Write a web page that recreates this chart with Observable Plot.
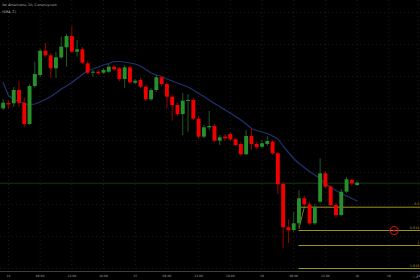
<!DOCTYPE html>
<html><head><meta charset="utf-8">
<script src="https://cdn.jsdelivr.net/npm/d3@7"></script>
<script src="https://cdn.jsdelivr.net/npm/@observablehq/plot@0.6"></script>
<style>html,body{margin:0;padding:0;background:#000;overflow:hidden}</style>
</head><body><div id="chart"></div>
<script>
const opens = [5.3834,5.394,5.3934,5.420,5.3946,5.352,5.428,5.450,5.4986,5.4894,5.4634,5.4854,5.5054,5.528,5.4966,5.5014,5.4734,5.4546,5.4566,5.4546,5.4566,5.4666,5.4634,5.442,5.4654,5.4346,5.440,5.4266,5.4014,5.420,5.4454,5.432,5.4066,5.390,5.372,5.398,5.400,5.3626,5.3266,5.3454,5.348,5.3186,5.3266,5.332,5.3214,5.312,5.2914,5.328,5.312,5.3066,5.312,5.3166,5.2934,5.232,5.1454,5.140,5.1534,5.2034,5.1914,5.1534,5.1966,5.2534,5.2266,5.190,5.170,5.2166,5.240,5.230];
const highs = [5.402,5.400,5.426,5.4386,5.4054,5.432,5.4766,5.502,5.5146,5.494,5.4966,5.5266,5.532,5.548,5.520,5.506,5.478,5.460,5.460,5.464,5.472,5.470,5.466,5.470,5.468,5.442,5.444,5.430,5.424,5.450,5.448,5.436,5.410,5.394,5.414,5.412,5.404,5.368,5.350,5.3786,5.352,5.330,5.332,5.336,5.324,5.316,5.340,5.3434,5.316,5.320,5.328,5.320,5.296,5.236,5.162,5.1766,5.220,5.208,5.196,5.192,5.2834,5.258,5.230,5.194,5.222,5.246,5.242,5.237];
const lows = [5.380,5.382,5.386,5.386,5.3454,5.350,5.424,5.446,5.486,5.444,5.444,5.482,5.4666,5.494,5.4866,5.472,5.452,5.4466,5.450,5.452,5.454,5.458,5.438,5.424,5.432,5.432,5.424,5.398,5.398,5.416,5.428,5.384,5.3586,5.368,5.330,5.3366,5.360,5.322,5.324,5.340,5.316,5.310,5.3186,5.318,5.308,5.288,5.290,5.300,5.302,5.304,5.308,5.290,5.212,5.104,5.114,5.136,5.146,5.188,5.150,5.150,5.194,5.224,5.186,5.166,5.168,5.214,5.228,5.228];
const closes = [5.3946,5.391,5.420,5.3946,5.352,5.428,5.452,5.4986,5.4894,5.4634,5.4854,5.5066,5.528,5.4966,5.5014,5.4746,5.4546,5.4566,5.4534,5.460,5.4666,5.4614,5.442,5.4654,5.4354,5.4386,5.4266,5.4014,5.420,5.4454,5.432,5.4066,5.390,5.372,5.3986,5.400,5.3626,5.3266,5.3454,5.348,5.3186,5.3254,5.3234,5.3214,5.310,5.2914,5.328,5.312,5.3054,5.3134,5.318,5.2934,5.2314,5.1454,5.140,5.1534,5.2034,5.1914,5.1534,5.1866,5.2534,5.2266,5.190,5.170,5.2166,5.2414,5.2334,5.2346];
const sma = [5.436,5.410,5.402,5.398,5.394,5.391,5.393,5.397,5.402,5.408,5.415,5.423,5.429,5.436,5.444,5.452,5.460,5.463,5.467,5.471,5.474,5.478,5.478,5.477,5.475,5.473,5.469,5.462,5.455,5.451,5.448,5.443,5.439,5.435,5.431,5.427,5.421,5.414,5.408,5.401,5.394,5.388,5.381,5.375,5.368,5.361,5.353,5.344,5.340,5.337,5.334,5.329,5.323,5.309,5.296,5.284,5.274,5.266,5.258,5.251,5.244,5.234,5.226,5.220,5.214,5.209,5.204,5.199];
const tickIndex = [1,7,13,19,25,31,37,43,49,55,61,67,73,78.6];
const tickLabels = ["14","06:00","12:00","18:00","15","06:00","12:00","18:00","16","06:00","12:00","18","19","20"];
const gridLevels = [5.576,5.512,5.448,5.384,5.320,5.256,5.192,5.128,5.064];
const fibLevels = [5.1866,5.140,5.110,5.064];
const fibLabels = ["0.5","0.618","1","1.618"];
const fibStart = 56;
const fibTrendIdx = [56,57];
const fibTrendPrice = [5.144,5.1866];
const alertIdx = [74];
const alertPrice = [5.140];
const titleLines = ["llar Americano, 1h, Currency.com","(SMA, 5)"];

const xDomain = [-0.5, 79];
const yDomain = [5.058, 5.6];

const candles = opens.map((o,i)=>({i, open:o, high:highs[i], low:lows[i], close:closes[i]}));
const smaData = sma.map((v,i)=>({i, v}));
const fib = fibLevels.map((p,k)=>({p, label:fibLabels[k]}));
const trend = fibTrendIdx.map((i,k)=>({i, p:fibTrendPrice[k]}));
const alert = alertIdx.map((i,k)=>({i, p:alertPrice[k]}));

const up = "#26912c", down = "#f20000", upWick = "#1d5a20", downWick = "#990000";
const fibColor = "#9e901a";
const font = "DejaVu Sans";

const chart = Plot.plot({
  width: 420, height: 280,
  marginTop: 0, marginLeft: 0, marginRight: 0, marginBottom: 9,
  style: {background: "#000", fontFamily: font},
  x: {domain: xDomain, axis: null},
  y: {domain: yDomain, axis: null},
  marks: [
    Plot.ruleX(tickIndex, {stroke: "#1c1c1c", strokeDasharray: "1,3"}),
    Plot.ruleY(gridLevels, {stroke: "#181818", strokeDasharray: "1,3"}),
    Plot.ruleY([closes[closes.length-1]], {stroke: "#0f3a12", strokeWidth: 1}),
    Plot.ruleY(fib, {y: "p", x1: fibStart, x2: xDomain[1], stroke: fibColor, strokeWidth: 1}),
    Plot.line(trend, {x: "i", y: "p", stroke: fibColor, strokeWidth: 0.8}),
    Plot.text(fib, {y: "p", text: "label", frameAnchor: "right", textAnchor: "end", dx: -1, dy: -3, fill: fibColor, fontSize: 3.4}),
    Plot.line(smaData, {x: "i", y: "v", stroke: "#1f3272", strokeWidth: 1.2}),
    Plot.ruleX(candles, {x: "i", y1: "low", y2: "high", stroke: d => d.close >= d.open ? upWick : downWick, strokeWidth: 1}),
    Plot.ruleX(candles, {x: "i", y1: "open", y2: "close", stroke: d => d.close >= d.open ? up : down, strokeWidth: 3.9}),
    Plot.dot(alert, {x: "i", y: "p", r: 4, stroke: "#d01010", strokeWidth: 1.1}),
    Plot.dot(alert, {x: "i", y: "p", r: 1.1, fill: "#d01010"}),
    Plot.ruleY([yDomain[0]], {stroke: "#3e3e3e", strokeWidth: 1}),
    Plot.axisX({ticks: tickIndex, tickFormat: d => tickLabels[tickIndex.indexOf(d)], tickSize: 0, tickPadding: 3, fontSize: 3, fill: "#a0a0a0"}),
    Plot.text([titleLines[0]], {text: d => d, frameAnchor: "top-left", textAnchor: "start", lineAnchor: "middle", dx: 1.5, dy: 4.7, fill: "#b8b8b8", fontSize: 3.3}),
    Plot.text([titleLines[1]], {text: d => d, frameAnchor: "top-left", textAnchor: "start", lineAnchor: "middle", dx: 1.5, dy: 11, fill: "#b8b8b8", fontSize: 3.3})
  ]
});
document.getElementById("chart").appendChild(chart);
</script>
</body></html>
